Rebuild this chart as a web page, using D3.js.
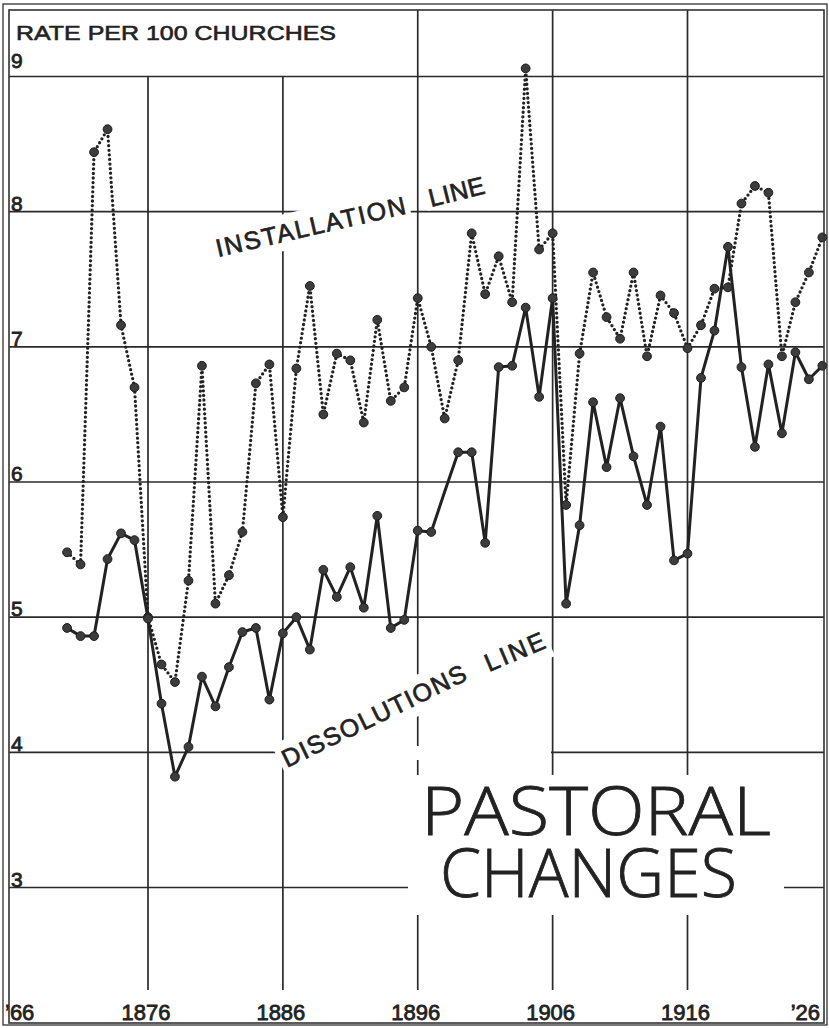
<!DOCTYPE html>
<html><head><meta charset="utf-8">
<script src="https://cdn.jsdelivr.net/npm/d3@7"></script>
<style>body{margin:0;background:#fff} svg{display:block}</style>
</head><body><svg id="c" width="829" height="1028"></svg>
<script>
const years = [1870,1871,1872,1873,1874,1875,1876,1877,1878,1879,
  1880,1881,1882,1883,1884,1885,1886,1887,1888,1889,
  1890,1891,1892,1893,1894,1895,1896,1897,1898,1899,
  1900,1901,1902,1903,1904,1905,1906,1907,1908,1909,
  1910,1911,1912,1913,1914,1915,1916,1917,1918,1919,
  1920,1921,1922,1923,1924,1925,1926];
const installation = [5.48,5.39,8.44,8.61,7.16,6.70,5.00,4.65,4.52,5.27,
  6.86,5.10,5.31,5.63,6.73,6.87,5.74,6.84,7.45,6.50,
  6.95,6.90,6.44,7.20,6.60,6.70,7.36,7.00,6.47,6.90,
  7.84,7.39,7.67,7.33,9.06,7.72,7.84,5.83,6.95,7.55,
  7.22,7.06,7.55,6.93,7.38,7.25,6.99,7.16,7.43,7.44,
  8.06,8.19,8.14,6.93,7.33,7.55,7.81];
const dissolutions = [4.92,4.86,4.86,5.43,5.62,5.57,4.99,4.36,3.82,4.04,
  4.56,4.34,4.63,4.89,4.92,4.39,4.88,5.00,4.76,5.35,
  5.15,5.37,5.07,5.75,4.92,4.98,5.64,5.63,5.93,6.22,
  6.22,5.55,6.85,6.86,7.29,6.63,7.36,5.10,5.68,6.59,
  6.11,6.62,6.19,5.83,6.41,5.42,5.47,6.77,7.12,7.74,
  6.85,6.26,6.87,6.36,6.96,6.76,6.86];
const unmarkedYears = [1898];
const yTicks = [3,4,5,6,7,8,9];
const xGridYears = [1876,1886,1896,1906,1916];
const xTickYears = [1866,1876,1886,1896,1906,1916,1926];
const xTickLabels = ["’66","1876","1886","1896","1906","1916","’26"];
const yTitle = "RATE PER 100 CHURCHES";
const chartTitle = ["PASTORAL","CHANGES"];

const ink = "#222";
const svg = d3.select("#c");
const x = d3.scaleLinear().domain([1876,1916]).range([148,687.5]);
const y = d3.scaleLinear().domain([3,9]).range([887.5,76.5]);
const font = "'Liberation Sans', Arial, sans-serif";

svg.append("rect").attr("width",829).attr("height",1028).attr("fill","#fff");

// grid
const grid = svg.append("g").attr("stroke", "#2a2a2a").attr("stroke-width",1.7);
grid.selectAll("line.h").data(yTicks).join("line").attr("class","h")
  .attr("x1",9).attr("x2",824).attr("y1",d=>y(d)).attr("y2",d=>y(d));
grid.selectAll("line.v").data(xGridYears).join("line").attr("class","v")
  .attr("x1",d=>x(d)).attr("x2",d=>x(d))
  .attr("y1",d=> d<1890 ? y(9) : 10).attr("y2",990);

// white masks behind labels
svg.append("rect").attr("x",408).attr("y",775).attr("width",376).attr("height",140).attr("fill","#fff");
svg.append("rect").attr("x",300).attr("y",746).attr("width",251).attr("height",14).attr("fill","#fff");

function label(txt, x0, y0, ang, size, len, pad) {
  const g = svg.append("g").attr("transform",`translate(${x0},${y0}) rotate(${ang})`);
  const r = g.append("rect").attr("fill","#fff");
  const t = g.append("text").text(txt).attr("font-family",font).attr("font-size",size)
    .attr("fill",ink).attr("stroke",ink).attr("stroke-width",0.7)
    .attr("textLength",len).attr("lengthAdjust","spacing");
  const b = t.node().getBBox();
  r.attr("x",b.x-pad[0]).attr("y",b.y+4-pad[1]).attr("width",b.width+2*pad[0]).attr("height",b.height-8+pad[1]+pad[2]);
  return t;
}
label("INSTALLATION", 218, 257, -13, 25, 194, [4,8,8]);
label("LINE", 431, 207, -14, 25, 57, [4,8,2]);
label("DISSOLUTIONS", 287, 768, -26, 25, 202, [4,8,10]);
label("LINE", 489, 672, -23, 25, 63, [4,8,10]);

// data lines
const line = d3.line().x((d,i)=>x(years[i])).y(d=>y(d));
svg.append("path").datum(installation).attr("d",line).attr("fill","none")
  .attr("stroke",ink).attr("stroke-width",3.3).attr("stroke-linecap","round")
  .attr("stroke-dasharray","0 4.6");
svg.append("path").datum(dissolutions).attr("d",line).attr("fill","none")
  .attr("stroke",ink).attr("stroke-width",3).attr("stroke-linejoin","round");
[[installation, []], [dissolutions, unmarkedYears]].forEach(([s, skip])=>{
  const pts = s.map((v,i)=>({year:years[i], v})).filter(p=>!skip.includes(p.year));
  svg.append("g").selectAll("circle").data(pts).join("circle")
    .attr("cx",p=>x(p.year)).attr("cy",p=>y(p.v)).attr("r",4.4)
    .attr("fill","#3c3c3c").attr("stroke","#1c1c1c").attr("stroke-width",1);
});

// y labels
svg.append("g").selectAll("text").data(yTicks).join("text")
  .attr("x",11).attr("y",d=> d===9 ? y(d)-9 : y(d)-1)
  .attr("font-family",font).attr("font-size",21).attr("fill",ink)
  .attr("stroke",ink).attr("stroke-width",0.8).text(d=>d);
svg.append("text").attr("x",16).attr("y",40).attr("font-family",font).attr("font-size",21)
  .attr("fill",ink).attr("stroke",ink).attr("stroke-width",0.6)
  .attr("textLength",320).attr("lengthAdjust","spacingAndGlyphs").text(yTitle);

// x labels
svg.append("g").selectAll("text").data(xTickYears).join("text")
  .attr("x",(d,i)=> i===0 ? 5 : i===xTickYears.length-1 ? 820 : x(d)-2)
  .attr("y",1020)
  .attr("text-anchor",(d,i)=> i===0 ? "start" : i===xTickYears.length-1 ? "end" : "middle")
  .attr("font-family",font).attr("font-size",22).attr("fill",ink)
  .attr("stroke",ink).attr("stroke-width",0.8)
  .text((d,i)=>xTickLabels[i]);

// title (one text, two lines)
const tt = svg.append("text").attr("font-family","'Open Sans', 'Liberation Sans', sans-serif")
  .attr("font-weight",300).attr("font-size",66).attr("fill",ink)
  .attr("stroke",ink).attr("stroke-width",0.8);
tt.append("tspan").attr("x",421).attr("y",835).attr("textLength",350).attr("lengthAdjust","spacingAndGlyphs").text(chartTitle[0]);
tt.append("tspan").attr("x",440).attr("y",897).attr("textLength",297).attr("lengthAdjust","spacingAndGlyphs").text(chartTitle[1]);

// borders
svg.append("rect").attr("x",3).attr("y",4).attr("width",824).attr("height",1021)
  .attr("fill","none").attr("stroke","#333").attr("stroke-width",1.3);
svg.append("rect").attr("x",9).attr("y",10).attr("width",815).attr("height",1013)
  .attr("fill","none").attr("stroke","#333").attr("stroke-width",1.6);
</script></body></html>
